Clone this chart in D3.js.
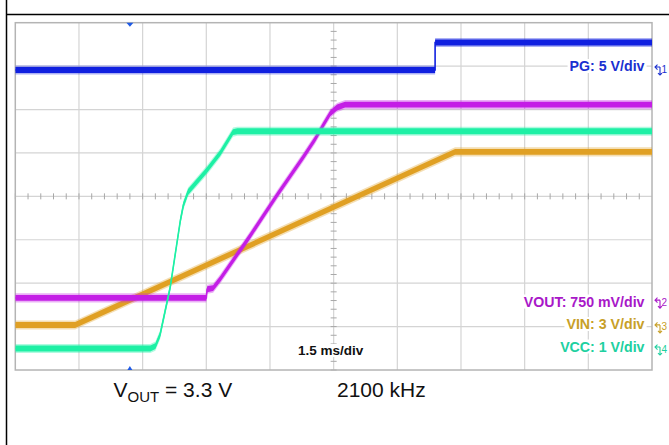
<!DOCTYPE html>
<html><head><meta charset="utf-8">
<script src="https://cdn.jsdelivr.net/npm/d3@7"></script>
<style>html,body{margin:0;padding:0;background:#fff;} svg{display:block;font-family:"Liberation Sans",Arial,sans-serif;}</style>
</head><body><svg id="c" width="669" height="445"></svg>
<script>
// ---- data (time in ms, values in volts) ----
const pgTime   = [0, 9.89, 9.89, 15];
const pgVolts  = [0, 0, 3.17, 3.17];
const voutTime  = [0, 4.50, 4.52, 4.66, 4.83, 5.53, 6.17, 6.78, 7.06, 7.25, 7.42, 7.58, 7.77, 15];
const voutVolts = [0.09, 0.09, 0.24, 0.26, 0.42, 1.16, 1.87, 2.52, 2.83, 3.07, 3.28, 3.38, 3.43, 3.43];
const vinTime  = [0, 1.41, 10.36, 15];
const vinVolts = [0.2, 0.2, 12.17, 12.17];
const vccTime  = [0, 3.18, 3.30, 3.41, 3.65, 3.89, 3.96, 4.07, 4.51, 4.83, 5.13, 5.23, 15];
const vccVolts = [0.035, 0.035, 0.09, 0.35, 1.45, 2.99, 3.34, 3.64, 4.14, 4.54, 5.02, 5.04, 5.04];
const channelNames  = ["PG", "VOUT", "VIN", "VCC"];
const channelLabels = ["PG: 5 V/div", "VOUT: 750 mV/div", "VIN: 3 V/div", "VCC: 1 V/div"];
const voltsPerDiv   = [5, 0.75, 3, 1];
const groundDiv     = [6.91, 1.54, 0.97, 0.46];
const timePerDiv = 1.5;
const timeDivs = [0,1,2,3,4,5,6,7,8,9,10];
const voltDivs = [0,1,2,3,4,5,6,7,8];
const triggerTime = 2.70;
const timebaseLabel = "1.5 ms/div";
const freqLabel = "2100 kHz";

const traceColors = ["#1020e0", "#c41ee6", "#e0a024", "#1ef0a5"];
const labelColors = ["#1a30d0", "#a818c8", "#c8a028", "#20d0a0"];

const svg = d3.select("#c");
const L = 15.3, R = 652, T = 22.7, B = 370;
const x = d3.scaleLinear().domain([0, 10 * timePerDiv]).range([L, R]);
const y = d3.scaleLinear().domain([0, 8]).range([B, T]);

// outer frame
svg.append("line").attr("x1", 6.5).attr("x2", 6.5).attr("y1", 0).attr("y2", 445).attr("stroke", "#000").attr("stroke-width", 1.5);
svg.append("line").attr("x1", 6).attr("x2", 669).attr("y1", 14.5).attr("y2", 14.5).attr("stroke", "#000").attr("stroke-width", 1.5);

// grid
const g = svg.append("g");
g.selectAll("line.vx").data(timeDivs.slice(1, -1)).join("line")
  .attr("x1", d => x(d * timePerDiv)).attr("x2", d => x(d * timePerDiv))
  .attr("y1", T).attr("y2", B).attr("stroke", "#d4d4d4").attr("stroke-width", 1.2);
g.selectAll("line.hy").data(voltDivs.slice(1, -1)).join("line")
  .attr("x1", L).attr("x2", R).attr("y1", d => y(d)).attr("y2", d => y(d))
  .attr("stroke", "#d4d4d4").attr("stroke-width", 1.2);
// minor ticks on centre axes
const minorX = d3.range(0, 50).map(i => i / 5);
const minorY = d3.range(0, 40).map(i => i / 5);
g.selectAll("line.mx").data(minorX).join("line")
  .attr("x1", d => x(d * timePerDiv)).attr("x2", d => x(d * timePerDiv))
  .attr("y1", y(4) - 3).attr("y2", y(4) + 3).attr("stroke", "#a8a8a8").attr("stroke-width", 1);
g.selectAll("line.my").data(minorY).join("line")
  .attr("y1", d => y(d)).attr("y2", d => y(d))
  .attr("x1", x(5 * timePerDiv) - 3).attr("x2", x(5 * timePerDiv) + 3).attr("stroke", "#a8a8a8").attr("stroke-width", 1);
svg.append("rect").attr("x", L).attr("y", T).attr("width", R - L).attr("height", B - T)
  .attr("fill", "none").attr("stroke", "#b4b4b4").attr("stroke-width", 1.5);

// traces
svg.append("clipPath").attr("id", "clip").append("rect").attr("x", L).attr("y", T).attr("width", R - L).attr("height", B - T);
const traces = svg.append("g").attr("clip-path", "url(#clip)");
const series = [
  {ch: 0, t: pgTime, v: pgVolts},
  {ch: 2, t: vinTime, v: vinVolts},
  {ch: 1, t: voutTime, v: voutVolts},
  {ch: 3, t: vccTime, v: vccVolts}
];
series.forEach(s => {
  const pts = s.t.map((t, i) => ({t, py: y(groundDiv[s.ch] + s.v[i] / voltsPerDiv[s.ch])}));
  const col = traceColors[s.ch];
  const band = h => d3.area().x(d => x(d.t)).y0(d => d.py + h).y1(d => d.py - h);
  traces.append("path").datum(pts).attr("d", band(4.6)).attr("fill", col).attr("opacity", 0.35);
  traces.append("path").datum(pts).attr("d", band(2.9)).attr("fill", col);
  traces.append("path").datum(pts).attr("d", d3.line().x(d => x(d.t)).y(d => d.py))
    .attr("fill", "none").attr("stroke", col).attr("stroke-width", 1.6);
});

// trigger markers
const tx = x(triggerTime);
svg.append("path").attr("d", `M${tx - 3.5},${T} L${tx + 3.5},${T} L${tx},${T + 4} Z`).attr("fill", "#1e5ae6");
svg.append("path").attr("d", `M${tx - 2.5},${B} L${tx + 2.5},${B} L${tx},${B - 4} Z`).attr("fill", "#1e5ae6");

// labels with white background
function label(txt, xr, yb, size, col, anchor) {
  const t = svg.append("text").attr("x", xr).attr("y", yb).attr("text-anchor", anchor)
    .attr("font-size", size).attr("font-weight", "bold").attr("fill", col).text(txt);
  const bb = t.node().getBBox();
  svg.insert("rect", () => t.node()).attr("x", bb.x - 2).attr("y", bb.y + 1).attr("width", bb.width + 4).attr("height", bb.height - 2).attr("fill", "#fff");
}
const labelY = [71, 306.5, 329, 351.5];
channelLabels.forEach((s, i) => label(s, 644.5, labelY[i], 14.2, labelColors[i], "end"));
label(timebaseLabel, 298, 355, 13.5, "#111", "start");

// channel markers
groundDiv.forEach((gd, i) => {
  const yy = y(gd), xx = 655;
  const col = labelColors[i];
  const m = svg.append("g").attr("stroke", col).attr("fill", "none").attr("stroke-width", 1.1);
  m.append("path").attr("d", `M${xx + 5},${yy - 3} L${xx},${yy - 3} M${xx + 2.5},${yy - 5.5} L${xx},${yy - 3} L${xx + 2.5},${yy - 0.5}`);
  m.append("path").attr("d", `M${xx + 5},${yy - 3} L${xx + 5},${yy + 5} M${xx + 3},${yy + 3} L${xx + 5},${yy + 5} L${xx + 7},${yy + 3}`);
  svg.append("text").attr("x", xx + 6.5).attr("y", yy + 2.5).attr("font-size", 10).attr("fill", col).text(i + 1);
});

// bottom text
const bt = svg.append("text").attr("x", 113.5).attr("y", 397).attr("font-size", 21).attr("fill", "#111");
bt.append("tspan").text("V");
bt.append("tspan").attr("font-size", 15).attr("dy", 5).text("OUT");
bt.append("tspan").attr("dy", -5).text(" = 3.3 V");
svg.append("text").attr("x", 337).attr("y", 397).attr("font-size", 21).attr("fill", "#111").text(freqLabel);
</script></body></html>
